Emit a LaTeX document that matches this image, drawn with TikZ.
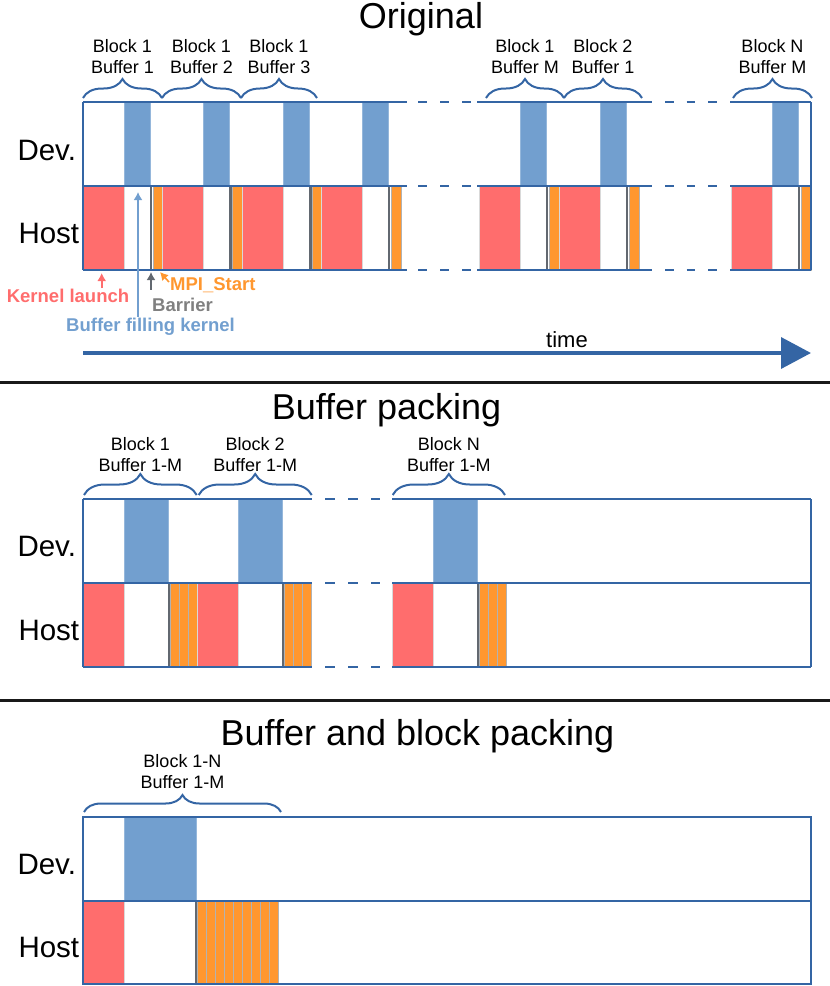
\documentclass[tikz,border=0pt]{standalone}
\usepackage{fontspec}
\setmainfont{Liberation Sans}
\usepackage{tikz}
\usetikzlibrary{arrows.meta,decorations.pathreplacing}

\definecolor{devblue}{HTML}{729FCF}
\definecolor{hostred}{HTML}{FF6D6D}
\definecolor{mpiorange}{HTML}{FF972F}
\definecolor{lineblue}{HTML}{3465A4}
\definecolor{barriergray}{HTML}{626870}
\definecolor{labelgray}{HTML}{808080}

\tikzset{
	boxline/.style={draw=lineblue, line width=2pt},
	gapline/.style={boxline, dash pattern=on 9pt off 13pt},
	devbar/.style={fill=devblue, draw=devblue!75!white, line width=0.6pt},
	kernelbar/.style={fill=hostred, draw=black!15, line width=0.6pt},
	mpibar/.style={fill=mpiorange, draw=black!30, line width=0.6pt},
	barrierline/.style={draw=barriergray, line width=2.5pt},
	bracedeco/.style={decorate, decoration={brace, amplitude=#1}, draw=lineblue, line width=2pt},
	blocklabel/.style={midway, above=#1, inner sep=0pt, text depth=0pt, align=center, font=\fontsize{18}{21}\selectfont},
	title/.style={anchor=base, font=\fontsize{36}{42}\selectfont},
	rowlabel/.style={anchor=base west, font=\fontsize{29.5}{34}\selectfont},
	annot/.style={inner sep=1pt, font=\bfseries\fontsize{18.5}{21}\selectfont},
	annotarrow/.style={line width=1.6pt, -{Latex[length=8pt,width=9pt]}},
	timearrow/.style={draw=lineblue, line width=3.5pt, -{Triangle[length=30pt,width=31pt]}},
	sepline/.style={draw=black!90, line width=3pt},
}

% one block of the original schedule, left edge at #1
\def\origblock(#1){%
	\draw[kernelbar] (#1,186) rectangle (#1+41,270);
	\draw[devbar] (#1+41,102) rectangle (#1+67,186);
	\draw[mpibar] (#1+70,186) rectangle (#1+80,270);
	\draw[barrierline] (#1+68,186) -- (#1+68,270);
}
% one block with all buffers packed, left edge at #1
\def\packblock(#1){%
	\draw[kernelbar] (#1,583) rectangle (#1+41,667);
	\draw[devbar] (#1+41,499) rectangle (#1+85,583);
	\draw[mpibar] (#1+87,583) rectangle (#1+96,667);
	\draw[mpibar] (#1+96,583) rectangle (#1+105,667);
	\draw[mpibar] (#1+105,583) rectangle (#1+114,667);
	\draw[barrierline] (#1+86,583) -- (#1+86,667);
}

\begin{document}
\begin{tikzpicture}[x=1pt, y=-1pt]
		%%%%% START %%%%%
		\useasboundingbox (0,0) rectangle (830,986);
		
		%%%%% Original %%%%%
		\node[title] (origtitle) at (421,28) {Original};
		\node[rowlabel] (origdev) at (14,160) {Dev.};
		\node[rowlabel] (orighost) at (15,243) {Host};
		
		\origblock(83);
		\origblock(162.7);
		\origblock(242.3);
		\origblock(321);
		\origblock(479);
		\origblock(559);
		\origblock(731);
		
		\draw[boxline] (83,102) -- (406.7,102) (83,186) -- (406.7,186) (83,270) -- (406.7,270);
		\draw[boxline] (477,102) -- (652,102) (477,186) -- (652,186) (477,270) -- (652,270);
		\draw[boxline] (730,102) -- (811,102) (730,186) -- (811,186) (730,270) -- (811,270);
		\draw[boxline] (83,102) -- (83,270) (811,102) -- (811,270);
		\draw[gapline] (418,102) -- (471,102) (418,186) -- (471,186) (418,270) -- (471,270);
		\draw[gapline, dash pattern=on 8.5pt off 13pt] (665,102) -- (717,102) (665,186) -- (717,186) (665,270) -- (717,270);
		
		\draw[bracedeco=19pt] (83,98) -- node[blocklabel=24pt] (b1f1) {Block 1\\Buffer 1} (162,98);
		\draw[bracedeco=19pt] (162,98) -- node[blocklabel=24pt] (b1f2) {Block 1\\Buffer 2} (241,98);
		\draw[bracedeco=19pt] (241,98) -- node[blocklabel=24pt] (b1f3) {Block 1\\Buffer 3} (317,98);
		\draw[bracedeco=19pt] (486,98) -- node[blocklabel=24pt] (b1fm) {Block 1\\Buffer M} (564,98);
		\draw[bracedeco=19pt] (564,98) -- node[blocklabel=24pt] (b2f1) {Block 2\\Buffer 1} (642,98);
		\draw[bracedeco=19pt] (733,98) -- node[blocklabel=24pt] (bnfm) {Block N\\Buffer M} (812,98);
		
		\node[annot, text=hostred] (kernel) at (68,296) {Kernel launch};
		\node[annot, text=labelgray, anchor=west] (barrier) at (151,304.5) {Barrier};
		\node[annot, text=mpiorange, anchor=west] (mpistart) at (169,285) {MPI\_Start};
		\node[annot, text=devblue] (filling) at (150.5,326.5) {Buffer filling kernel};
		\coordinate (kerneltip) at (101.7,273);
		\coordinate (barriertip) at (151,272);
		\coordinate (mpitip) at (160,272);
		\coordinate (fillingtip) at (138,192);
		\draw[annotarrow, hostred] (kernel.north -| kerneltip) -- (kerneltip);
		\draw[annotarrow, barriergray] ([yshift=7pt]barrier.north west) -- (barriertip);
		\draw[annotarrow, mpiorange] ([yshift=3pt]mpistart.west) -- (mpitip);
		\draw[annotarrow, devblue] (filling.north -| fillingtip) -- (fillingtip);
		
		\coordinate (timestart) at (83,353);
		\coordinate (timeend) at (811,353);
		\draw[timearrow] (timestart) -- (timeend);
		\node[anchor=base, font=\fontsize{22}{26}\selectfont] (time) at (567,347) {time};
		
		\coordinate (sepal) at (0,382);
		\coordinate (separ) at (830,382);
		\draw[sepline] (sepal) -- (separ);
		
		%%%%% Buffer packing %%%%%
		\node[title] (packtitle) at (386.5,419) {Buffer packing};
		\node[rowlabel] (packdev) at (14,556) {Dev.};
		\node[rowlabel] (packhost) at (15,640) {Host};
		
		\packblock(83);
		\packblock(197);
		\packblock(392);
		
		\draw[boxline] (83,499) -- (312,499) (83,583) -- (312,583) (83,667) -- (312,667);
		\draw[boxline] (392,499) -- (811,499) (392,583) -- (811,583) (392,667) -- (811,667);
		\draw[boxline] (83,499) -- (83,667) (811,499) -- (811,667);
		\draw[gapline, dash pattern=on 10pt off 13pt] (325,499) -- (380,499) (325,583) -- (380,583) (325,667) -- (380,667);
		
		\draw[bracedeco=21pt] (84,495) -- node[blocklabel=23pt] (pb1) {Block 1\\Buffer 1-M} (196.7,495);
		\draw[bracedeco=21pt] (198.7,495) -- node[blocklabel=23pt] (pb2) {Block 2\\Buffer 1-M} (311.7,495);
		\draw[bracedeco=21pt] (392.7,495) -- node[blocklabel=23pt] (pbn) {Block N\\Buffer 1-M} (505,495);
		
		\coordinate (sepbl) at (0,700);
		\coordinate (sepbr) at (830,700);
		\draw[sepline] (sepbl) -- (sepbr);
		
		%%%%% Buffer and block packing %%%%%
		\node[title] (alltitle) at (417.5,745) {Buffer and block packing};
		\node[rowlabel] (alldev) at (14,874) {Dev.};
		\node[rowlabel] (allhost) at (15,957) {Host};
		
		\draw[kernelbar] (83,901) rectangle (124,984);
		\draw[devbar] (124,817) rectangle (196,901);
		\draw[mpibar] (197,901) rectangle (278,984);
		\draw[draw=black!30, line width=0.6pt] (206,901) -- (206,984) (215,901) -- (215,984) (224,901) -- (224,984) (233,901) -- (233,984)
			(242,901) -- (242,984) (251,901) -- (251,984) (260,901) -- (260,984) (269,901) -- (269,984);
		\draw[barrierline] (196,901) -- (196,984);
		
		\draw[boxline] (83,817) rectangle (811,984);
		\draw[boxline] (83,901) -- (811,901);
		
		\draw[bracedeco=17pt] (84,812) -- node[blocklabel=23pt] (allblocks) {Block 1-N\\Buffer 1-M} (281,812);
		
		%%%%% END %%%%%
\end{tikzpicture}
\end{document}
